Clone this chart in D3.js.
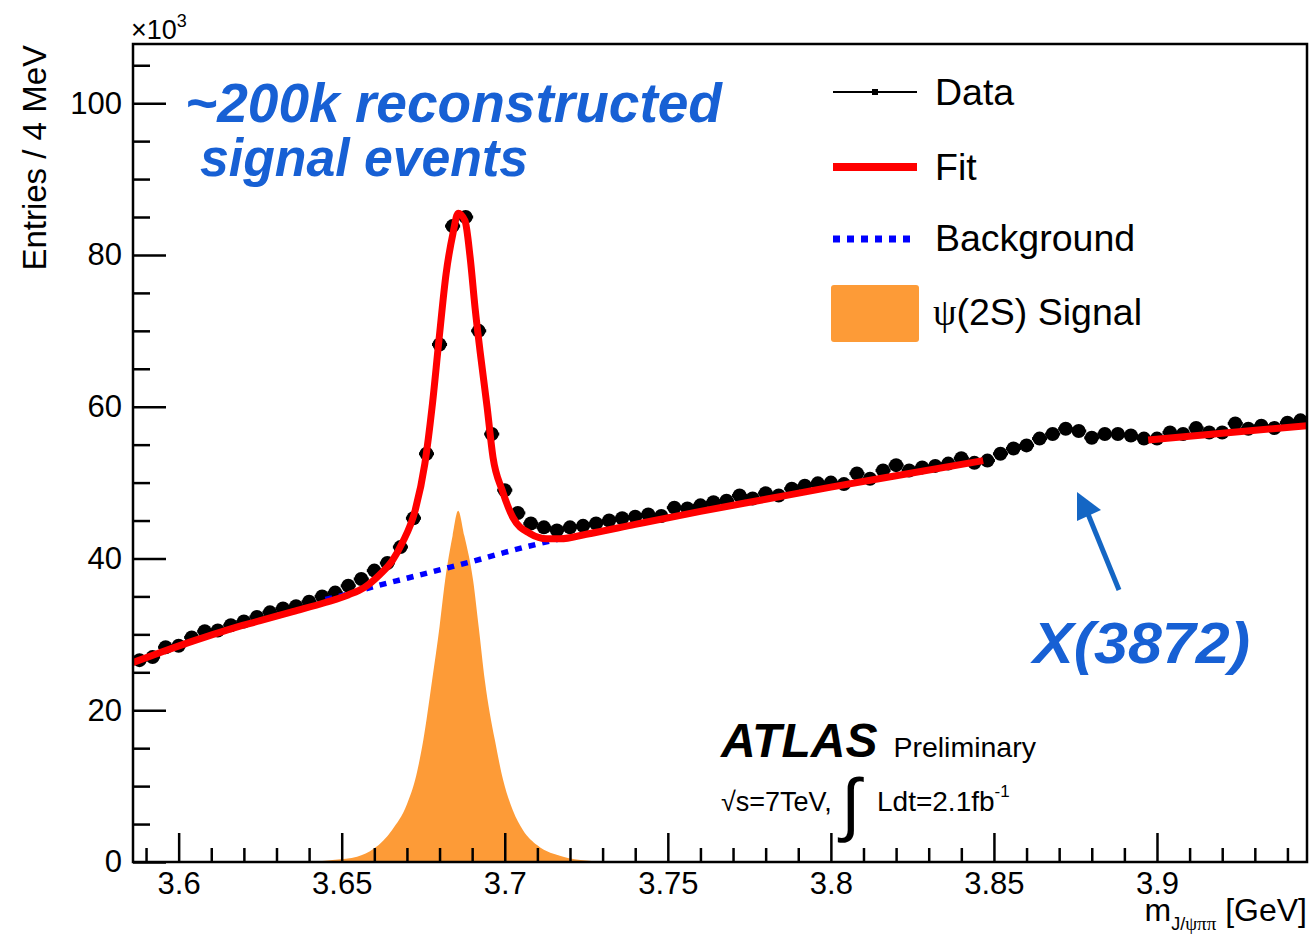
<!DOCTYPE html>
<html><head><meta charset="utf-8">
<script src="https://cdn.jsdelivr.net/npm/d3@7"></script>
<style>
body{margin:0;background:#fff}
svg{display:block}
text{font-family:"Liberation Sans",Arial,Helvetica,sans-serif;fill:#000}
</style>
</head><body>
<svg id="c" width="1311" height="937"></svg>
<script>
// ---------- data (values in units of 10^3 entries / 4 MeV) ----------
const massCenters = [
3.588,3.592,3.596,3.600,3.604,3.608,3.612,3.616,3.620,3.624,
3.628,3.632,3.636,3.640,3.644,3.648,3.652,3.656,3.660,3.664,
3.668,3.672,3.676,3.680,3.684,3.688,3.692,3.696,3.700,3.704,
3.708,3.712,3.716,3.720,3.724,3.728,3.732,3.736,3.740,3.744,
3.748,3.752,3.756,3.760,3.764,3.768,3.772,3.776,3.780,3.784,
3.788,3.792,3.796,3.800,3.804,3.808,3.812,3.816,3.820,3.824,
3.828,3.832,3.836,3.840,3.844,3.848,3.852,3.856,3.860,3.864,
3.868,3.872,3.876,3.880,3.884,3.888,3.892,3.896,3.900,3.904,
3.908,3.912,3.916,3.920,3.924,3.928,3.932,3.936,3.940,3.944];
const dataCounts = [
26.6,27.0,28.3,28.5,29.6,30.4,30.5,31.2,31.7,32.3,
32.9,33.4,33.7,34.3,35.0,35.5,36.4,37.3,38.4,39.4,
41.5,45.3,53.8,68.2,83.8,85.0,70.0,56.4,49.0,46.0,
44.6,44.1,43.7,44.1,44.3,44.6,45.0,45.3,45.5,45.8,
45.6,46.7,46.6,47.0,47.4,47.6,48.3,47.9,48.6,48.3,
49.2,49.6,49.9,50.0,49.8,51.2,50.5,51.6,52.3,51.6,
52.0,52.2,52.5,53.2,52.6,52.9,53.8,54.5,54.9,55.8,
56.4,57.1,56.8,55.9,56.4,56.4,56.2,55.8,55.8,56.6,
56.4,57.2,56.6,56.6,57.8,57.1,57.5,57.2,57.9,58.2];
const binWidth = 0.004;

// fit (left range)
const fitMassA = [3.586,3.595,3.605,3.615,3.625,3.635,3.645,3.652,3.657,3.6617,3.6655,3.6685,3.6725,3.6755,3.6777,3.6798,3.6820,3.6841,3.6857,3.6878,3.6894,3.6909,3.6924,3.6946,3.6964,3.6992,3.7025,3.7077,3.7130,3.7170,3.7250,3.7400,3.7600,3.7800,3.8000,3.8200,3.8467];
const fitValsA = [26.3,27.7,29.2,30.6,31.8,33.0,34.2,35.2,36.2,37.9,39.7,42.0,46.3,52.5,59.9,68.7,77.5,82.8,85.5,84.5,79.6,73.0,67.4,59.9,53.3,49.0,45.4,43.3,42.6,42.6,43.2,44.5,46.2,47.8,49.4,50.9,52.9];
// fit (right range)
const fitMassB = [3.8973,3.9200,3.9460];
const fitValsB = [55.6,56.5,57.5];

// background (visible part)
const bgMass = [3.645,3.650,3.660,3.670,3.680,3.690,3.700,3.710,3.718];
const bgVals = [34.6,35.1,36.3,37.4,38.5,39.6,40.8,41.9,42.7];

// psi(2S) signal
const sigMass = [3.640,3.648,3.6547,3.660,3.6654,3.670,3.6725,3.675,3.6777,3.680,3.6817,3.684,3.6857,3.6876,3.6903,3.692,3.6939,3.697,3.6995,3.7025,3.7056,3.710,3.7179,3.725,3.735];
const sigVals = [0,0.3,0.7,1.8,4.2,7.6,10.8,16.0,23.9,31.0,37.1,43.0,46.3,43.0,37.1,31.0,23.9,16.0,10.8,6.8,4.2,2.2,0.7,0.2,0];

// axes
const yMajor = [0,20,40,60,80,100];
const yTickLabels = ["0","20","40","60","80","100"];
const yMinor = [5,10,15,25,30,35,45,50,55,65,70,75,85,90,95,105];
const xMajor = [3.6,3.65,3.7,3.75,3.8,3.85,3.9];
const xTickLabels = ["3.6","3.65","3.7","3.75","3.8","3.85","3.9"];
const xMinor = [3.59,3.61,3.62,3.63,3.64,3.66,3.67,3.68,3.69,3.71,3.72,3.73,3.74,3.76,3.77,3.78,3.79,3.81,3.82,3.83,3.84,3.86,3.87,3.88,3.89,3.91,3.92,3.93,3.94];

// ---------- layout ----------
const L=133, R=1307, T=44, B=862;
const svg = d3.select("#c");
const x = d3.scaleLinear().domain([3.586,3.946]).range([L,R]);
const y = d3.scaleLinear().domain([0,107.8]).range([B,T]);

svg.append("defs").append("clipPath").attr("id","clip")
  .append("rect").attr("x",L).attr("y",T).attr("width",R-L).attr("height",B-T);
const plot = svg.append("g").attr("clip-path","url(#clip)");

// signal
const sig = sigMass.map((m,i)=>[m,sigVals[i]]);
plot.append("path").datum(sig)
  .attr("d", d3.area().x(d=>x(d[0])).y0(y(0)).y1(d=>y(d[1])).curve(d3.curveMonotoneX))
  .attr("fill","#fd9b37");

// data
const pts = massCenters.map((m,i)=>({m, v:dataCounts[i]}));
const gd = plot.append("g");
gd.selectAll("line.eb").data(pts).join("line")
  .attr("x1",d=>x(d.m-binWidth/2)-1).attr("x2",d=>x(d.m+binWidth/2)+1)
  .attr("y1",d=>y(d.v)).attr("y2",d=>y(d.v))
  .attr("stroke","#000").attr("stroke-width",3);
gd.selectAll("circle").data(pts).join("circle")
  .attr("cx",d=>x(d.m)).attr("cy",d=>y(d.v)).attr("r",7).attr("fill","#000");

// background
const line = d3.line().x(d=>x(d[0])).y(d=>y(d[1])).curve(d3.curveMonotoneX);
plot.append("path").datum(bgMass.map((m,i)=>[m,bgVals[i]]))
  .attr("d",line).attr("fill","none").attr("stroke","#0000ff")
  .attr("stroke-width",5.5).attr("stroke-dasharray","7,7");

// fit
[[fitMassA,fitValsA],[fitMassB,fitValsB]].forEach(([ms,vs])=>{
  plot.append("path").datum(ms.map((m,i)=>[m,vs[i]]))
    .attr("d",line).attr("fill","none").attr("stroke","#ff0000")
    .attr("stroke-width",7).attr("stroke-linejoin","round");
});

// axes
function styleAxis(g){
  g.select(".domain").remove();
  g.selectAll(".tick line").attr("stroke","#000").attr("stroke-width",2.5);
  g.selectAll(".tick text").attr("font-size",31).attr("fill","#000")
   .attr("font-family",'"Liberation Sans",Arial,sans-serif');
}
svg.append("g").attr("transform",`translate(${L},0)`)
  .call(d3.axisLeft(y).tickValues(yMajor).tickSizeInner(-33).tickSizeOuter(0).tickPadding(11)
    .tickFormat((d,i)=>yTickLabels[i])).call(styleAxis);
svg.append("g").attr("transform",`translate(${L},0)`)
  .call(d3.axisLeft(y).tickValues(yMinor).tickSizeInner(-17).tickSizeOuter(0).tickFormat(()=>"")).call(styleAxis);
svg.append("g").attr("transform",`translate(0,${B})`)
  .call(d3.axisBottom(x).tickValues(xMajor).tickSizeInner(-29).tickSizeOuter(0).tickPadding(10)
    .tickFormat((d,i)=>xTickLabels[i])).call(styleAxis);
svg.append("g").attr("transform",`translate(0,${B})`)
  .call(d3.axisBottom(x).tickValues(xMinor).tickSizeInner(-14).tickSizeOuter(0).tickFormat(()=>"")).call(styleAxis);

// frame
svg.append("rect").attr("x",L).attr("y",T).attr("width",R-L).attr("height",B-T)
  .attr("fill","none").attr("stroke","#000").attr("stroke-width",2.5);

// exponent
const ex = svg.append("text").attr("x",131).attr("y",39).attr("font-size",27);
ex.append("tspan").text("×10");
ex.append("tspan").attr("font-size",18).attr("dy",-12).text("3");

// axis titles
svg.append("text").attr("transform","translate(46,45) rotate(-90)")
  .attr("text-anchor","end").attr("font-size",33).text("Entries / 4 MeV");
const xt = svg.append("text").attr("x",R).attr("y",921).attr("text-anchor","end").attr("font-size",32);
xt.append("tspan").text("m");
xt.append("tspan").attr("font-size",18).attr("dy",9).text("J/");
xt.append("tspan").attr("font-size",19).attr("font-family",'"Liberation Serif",serif').text("ψππ");
xt.append("tspan").attr("dy",-9).text(" [GeV]");

// legend
const lg = svg.append("g");
lg.append("line").attr("x1",833).attr("x2",917).attr("y1",92).attr("y2",92).attr("stroke","#000").attr("stroke-width",2);
lg.append("rect").attr("x",872).attr("y",89).attr("width",6).attr("height",6).attr("fill","#000");
lg.append("line").attr("x1",833).attr("x2",917).attr("y1",167).attr("y2",167).attr("stroke","#ff0000").attr("stroke-width",8);
lg.append("line").attr("x1",833).attr("x2",917).attr("y1",239).attr("y2",239).attr("stroke","#0000ff").attr("stroke-width",7).attr("stroke-dasharray","7,7");
lg.append("rect").attr("x",831).attr("y",285).attr("width",88).attr("height",57).attr("rx",3).attr("fill","#fd9b37");
const legText = [["Data",105],["Fit",180],["Background",251]];
legText.forEach(([t,yy])=>lg.append("text").attr("x",935).attr("y",yy).attr("font-size",37.5).text(t));
const ls = lg.append("text").attr("x",933).attr("y",325).attr("font-size",37.5);
ls.append("tspan").attr("font-family",'"Liberation Serif",serif').text("ψ");
ls.append("tspan").text("(2S) Signal");

// ATLAS label
const at = svg.append("text").attr("x",721).attr("y",757);
at.append("tspan").attr("font-size",48).attr("font-weight","bold").attr("font-style","italic").text("ATLAS");
at.append("tspan").attr("font-size",28.5).attr("dx",16).text("Preliminary");
svg.append("text").attr("x",721).attr("y",811).attr("font-size",27).text("√s=7TeV,");
svg.append("text").attr("x",841).attr("y",828).attr("font-size",70).attr("font-family",'"DejaVu Serif",serif').text("∫");
const ld = svg.append("text").attr("x",877).attr("y",811).attr("font-size",28);
ld.append("tspan").text("Ldt=2.1fb");
ld.append("tspan").attr("font-size",17).attr("dy",-14).text("-1");

// annotations
const blue = "#1760d4";
function annText(tx,xx,yy,fs,len){
  return svg.append("text").attr("x",xx).attr("y",yy).attr("font-size",fs)
    .attr("font-family",'"Open Sans",sans-serif').attr("font-weight","bold").attr("font-style","italic")
    .attr("textLength",len).attr("lengthAdjust","spacingAndGlyphs")
    .style("fill",blue).text(tx);
}
annText("~200k reconstructed",185,122,55,537);
annText("signal events",200,176,54,328);
annText("X(3872)",1033,663,57,217);

// arrow
const arrowC = "#1466c4";
svg.append("line").attr("x1",1119).attr("y1",590).attr("x2",1088).attr("y2",514)
  .attr("stroke",arrowC).attr("stroke-width",5);
svg.append("polygon").attr("points","1077,492 1101,510 1077,521").attr("fill",arrowC);
</script>
</body></html>
